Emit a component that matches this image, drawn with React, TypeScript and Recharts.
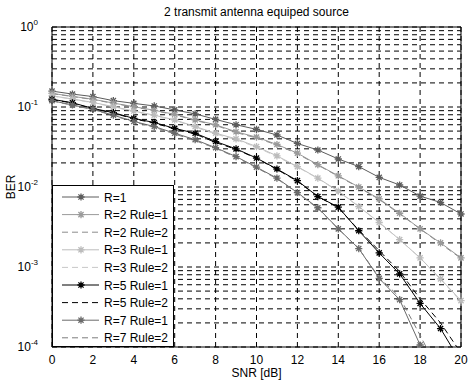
import * as React from "react"
import {
  LineChart,
  Line,
  XAxis,
  YAxis,
  CartesianGrid,
  Legend,
  ReferenceLine,
} from "recharts"

document.body.style.margin = "0"

const snr = [0, 1, 2, 3, 4, 5, 6, 7, 8, 9, 10, 11, 12, 13, 14, 15, 16, 17, 18, 19, 20]

const r1 = [0.158, 0.145, 0.135, 0.12, 0.111, 0.103, 0.092, 0.082, 0.07, 0.06, 0.0525, 0.0447, 0.035, 0.029, 0.0224, 0.018, 0.0132, 0.0106, 0.0077, 0.0064, 0.0046]
const r2rule1 = [0.148, 0.136, 0.125, 0.112, 0.101, 0.091, 0.081, 0.069, 0.06, 0.049, 0.042, 0.034, 0.0265, 0.019, 0.0138, 0.01, 0.0071, 0.0047, 0.003, 0.002, 0.0013]
const r2rule2 = [0.147, 0.135, 0.124, 0.111, 0.1, 0.09, 0.08, 0.068, 0.059, 0.048, 0.041, 0.0335, 0.026, 0.0188, 0.0136, 0.0099, 0.007, 0.0046, 0.003, 0.00195, 0.00128]
const r3rule1 = [0.138, 0.126, 0.114, 0.101, 0.089, 0.079, 0.069, 0.057, 0.047, 0.04, 0.032, 0.0245, 0.018, 0.0129, 0.0089, 0.0057, 0.0036, 0.0022, 0.0013, 0.00071, 0.00038]
const r3rule2 = [0.137, 0.125, 0.113, 0.1, 0.088, 0.078, 0.068, 0.056, 0.046, 0.039, 0.0315, 0.024, 0.0178, 0.0128, 0.0088, 0.0057, 0.0036, 0.0022, 0.0013, 0.0007, 0.00037]
const r5rule1 = [0.125, 0.113, 0.096, 0.085, 0.072, 0.064, 0.054, 0.047, 0.037, 0.03, 0.023, 0.0168, 0.012, 0.0076, 0.0056, 0.00284, 0.0015, 0.00082, 0.00035, 0.00017, 0.000064]
const r5rule2 = [0.124, 0.112, 0.095, 0.084, 0.071, 0.063, 0.053, 0.046, 0.036, 0.0295, 0.0228, 0.0166, 0.0118, 0.0076, 0.0055, 0.0029, 0.0016, 0.00088, 0.0004, 0.0002, 0.000084]
const r7rule1 = [0.12, 0.106, 0.094, 0.079, 0.066, 0.057, 0.047, 0.039, 0.031, 0.024, 0.0177, 0.0129, 0.0085, 0.0055, 0.003, 0.0017, 0.00072, 0.00039, 0.000106, null, null]
const r7rule2 = [0.119, 0.105, 0.093, 0.078, 0.065, 0.056, 0.046, 0.038, 0.0305, 0.0235, 0.0174, 0.0127, 0.0084, 0.0054, 0.003, 0.0017, 0.00074, 0.00042, 0.00014, 0.000045, null]

const decades = [1e-4, 1e-3, 1e-2, 1e-1]
const minorSteps = [1, 2, 3, 4, 5, 6, 7, 8, 9]
const xTicks = [0, 2, 4, 6, 8, 10, 12, 14, 16, 18, 20]

const yTicks = [...decades.flatMap((d) => minorSteps.map((m) => +(d * m).toPrecision(3))), 1]

const series = [
  { key: "r1", name: "R=1", values: r1, color: "#5c5c5c", dashed: false, marker: true },
  { key: "r2a", name: "R=2 Rule=1", values: r2rule1, color: "#9a9a9a", dashed: false, marker: true },
  { key: "r2b", name: "R=2 Rule=2", values: r2rule2, color: "#8c8c8c", dashed: true, marker: false },
  { key: "r3a", name: "R=3 Rule=1", values: r3rule1, color: "#bcbcbc", dashed: false, marker: true },
  { key: "r3b", name: "R=3 Rule=2", values: r3rule2, color: "#c8c8c8", dashed: true, marker: false },
  { key: "r5a", name: "R=5 Rule=1", values: r5rule1, color: "#000000", dashed: false, marker: true },
  { key: "r5b", name: "R=5 Rule=2", values: r5rule2, color: "#000000", dashed: true, marker: false },
  { key: "r7a", name: "R=7 Rule=1", values: r7rule1, color: "#6a6a6a", dashed: false, marker: true },
  { key: "r7b", name: "R=7 Rule=2", values: r7rule2, color: "#7c7c7c", dashed: true, marker: false },
]

const data = snr.map((x, i) => {
  const row: any = { snr: x }
  series.forEach((s) => {
    row[s.key] = s.values[i]
  })
  return row
})

const font = "'Liberation Sans', Arial, sans-serif"

function starPath(cx: number, cy: number, r: number) {
  const d = r * 0.72
  return `M${cx - r},${cy}L${cx + r},${cy}M${cx},${cy - r}L${cx},${cy + r}M${cx - d},${cy - d}L${cx + d},${cy + d}M${cx - d},${cy + d}L${cx + d},${cy - d}`
}

const StarDot = (props: any) => {
  const { cx, cy, stroke, value } = props
  if (cx == null || cy == null || value == null) return <g />
  return <path d={starPath(cx, cy, 3.6)} stroke={stroke} strokeWidth={1.3} fill="none" />
}

const YTick = (props: any) => {
  const { x, y, payload } = props
  const v = payload.value
  const e = Math.round(Math.log10(v))
  if (Math.abs(v / Math.pow(10, e) - 1) > 1e-6) return <g />
  return (
    <text x={x - 6} y={y + 4} textAnchor="end" fontSize={12} fontFamily={font} fill="#000">
      10
      <tspan dy={-6} fontSize={8}>{e}</tspan>
    </text>
  )
}

const LegendBox = () => (
  <div
    style={{
      width: 122,
      height: 162,
      boxSizing: "border-box",
      border: "1px solid #000",
      background: "#fff",
    }}
  >
    <svg width={120} height={160}>
      {series.map((s, i) => {
        const y = 11 + i * 17.6
        return (
          <g key={s.key}>
            <line
              x1={9}
              x2={46}
              y1={y}
              y2={y}
              stroke={s.color}
              strokeWidth={1}
              strokeDasharray={s.dashed ? "6 4" : undefined}
            />
            {s.marker && <path d={starPath(28, y, 3.6)} stroke={s.color} strokeWidth={1.3} fill="none" />}
            <text x={51} y={y + 4.5} fontSize={12} fontFamily={font} fill="#000">
              {s.name}
            </text>
          </g>
        )
      })}
    </svg>
  </div>
)

export default function App() {
  return (
    <div style={{ position: "relative", width: 473, height: 382, background: "#fff", fontFamily: font }}>
      <div
        style={{
          position: "absolute",
          left: 52,
          width: 409,
          top: 5,
          textAlign: "center",
          fontSize: 12,
        }}
      >
        2 transmit antenna equiped source
      </div>
      <LineChart width={473} height={382} data={data} margin={{ top: 27, right: 12, left: 0, bottom: 0 }}>
        <CartesianGrid stroke="#000" strokeDasharray="5 4" strokeWidth={1} />
        <XAxis
          dataKey="snr"
          type="number"
          domain={[0, 20]}
          ticks={xTicks}
          height={35}
          stroke="#000"
          tickLine={false}
          tick={{ fontSize: 12, fill: "#000", fontFamily: font }}
          tickMargin={2}
          label={{ value: "SNR [dB]", position: "insideBottom", offset: 5, fontSize: 12, fill: "#000", fontFamily: font }}
        />
        <YAxis
          type="number"
          scale="log"
          domain={[1e-4, 1]}
          allowDataOverflow
          ticks={yTicks}
          interval={0}
          width={52}
          stroke="#000"
          tickLine={false}
          tick={<YTick />}
          label={{
            value: "BER",
            angle: -90,
            position: "insideLeft",
            offset: 11,
            fontSize: 12,
            fill: "#000",
            fontFamily: font,
            style: { textAnchor: "middle" },
          }}
        />
        <ReferenceLine y={1} stroke="#000" />
        <ReferenceLine x={20} stroke="#000" />
        {series.map((s) => (
          <Line
            key={s.key}
            dataKey={s.key}
            name={s.name}
            type="linear"
            stroke={s.color}
            strokeWidth={1}
            strokeDasharray={s.dashed ? "6 4" : undefined}
            dot={s.marker ? <StarDot /> : false}
            activeDot={false}
            connectNulls={false}
            isAnimationActive={false}
          />
        ))}
        <Legend
          layout="vertical"
          align="center"
          verticalAlign="middle"
          content={<LegendBox />}
          wrapperStyle={{ left: 52, top: 185, width: 122, height: 162 }}
        />
      </LineChart>
    </div>
  )
}
